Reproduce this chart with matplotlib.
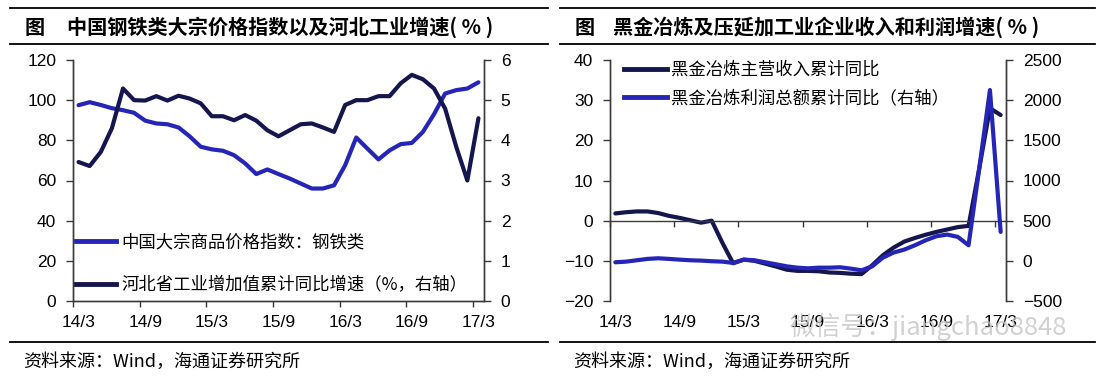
import matplotlib
matplotlib.use("Agg")
import matplotlib.pyplot as plt
from matplotlib.lines import Line2D
import numpy as np
import pandas as pd

plt.rcParams['font.family'] = ['Noto Sans CJK SC', 'DejaVu Sans']

# ---------------- data ----------------
months = [p.strftime('%y/%-m') for p in pd.period_range('2014-03', '2017-03', freq='M')]
tick_labels = ["14/3", "14/9", "15/3", "15/9", "16/3", "16/9", "17/3"]

# left chart
steel_price = [97.5, 99, 97.6, 96, 95, 93.7, 89.8, 88.4, 88, 86.4, 82, 76.8, 75.5, 74.8,
               72.6, 68.5, 63.2, 65.5, 63.2, 61, 58.5, 56, 56, 57.6, 67.6, 81.4, 75.9,
               70.5, 75, 78.1, 78.7, 84.2, 93, 103.3, 105, 105.8, 108.9]
hebei_growth = [3.46, 3.36, 3.71, 4.30, 5.29, 5.0, 4.99, 5.1, 4.99, 5.11, 5.04, 4.92, 4.60,
                4.60, 4.50, 4.63, 4.49, 4.25, 4.10, 4.25, 4.40, 4.42, 4.32, 4.21, 4.88, 5.0,
                5.0, 5.1, 5.1, 5.42, 5.63, 5.52, 5.29, 4.79, 3.84, 3.0, 4.55]

# right chart
revenue_yoy = [1.8, 2.1, 2.3, 2.3, 1.9, 1.2, 0.7, 0.1, -0.5, 0.0, -5.5, -10.6, -9.7, -10.0,
               -10.7, -11.4, -12.2, -12.5, -12.5, -12.6, -12.9, -13.0, -13.2, -13.3, -11.1,
               -8.6, -6.7, -5.2, -4.3, -3.5, -2.8, -2.2, -1.6, -1.3, 13, 28, 26.3]
profit_yoy = [-18, -10, 7, 24, 32, 24, 15, 7, 3, -5, -10, -26, 15, 7, -18, -43, -68, -85,
              -93, -85, -85, -80, -97, -118, -68, 40, 103, 140, 194, 256, 306, 327, 298,
              194, 1150, 2126, 360]

label_steel = "中国大宗商品价格指数：钢铁类"
label_hebei = "河北省工业增加值累计同比增速（%，右轴）"
label_rev = "黑金冶炼主营收入累计同比"
label_profit = "黑金冶炼利润总额累计同比（右轴）"
title_left = "中国钢铁类大宗价格指数以及河北工业增速( % )"
title_right = "黑金冶炼及压延加工业企业收入和利润增速( % )"
source = "资料来源：Wind，海通证券研究所"

BLUE = '#2525B8'
NAVY = '#16164E'
SPINE = '#3a3a3a'
TICKFONT = 'Liberation Sans'

W, H = 1100, 379
fig = plt.figure(figsize=(W / 100, H / 100), dpi=100)

n = len(months)
x = np.arange(n) + 0.5
major = np.arange(0, n, 6)
minor = major + 0.5


def style_common(ax, ax2):
    ax.set_xlim(0, n)
    ax.spines['top'].set_visible(False)
    ax2.spines['top'].set_visible(False)
    for a in (ax, ax2):
        for s in a.spines.values():
            s.set_color(SPINE)
            s.set_linewidth(1.0)
    ax.tick_params(axis='y', direction='out', length=5, width=1, pad=7,
                   labelsize=12.5, labelfontfamily=TICKFONT, color=SPINE)
    ax2.tick_params(axis='y', direction='out', length=5, width=1, pad=7,
                    labelsize=12.5, labelfontfamily=TICKFONT, color=SPINE)
    ax.set_xticks(major)
    ax.set_xticks(minor, minor=True)
    ax.tick_params(axis='x', which='major', direction='out', length=4.5, width=1,
                   color=SPINE)


# ---------------- left chart ----------------
axL = fig.add_axes([73 / W, (H - 301) / H, 411 / W, 241 / H])
axL2 = axL.twinx()
axL.plot(x, steel_price, color=BLUE, lw=3, solid_joinstyle='round', solid_capstyle='round')
axL2.plot(x, hebei_growth, color=NAVY, lw=3, solid_joinstyle='round', solid_capstyle='round')
axL.set_ylim(0, 120)
axL.set_yticks(np.arange(0, 121, 20))
axL2.set_ylim(0, 6)
axL2.set_yticks(np.arange(0, 7, 1))
style_common(axL, axL2)
axL.tick_params(axis='x', which='major', labelbottom=False)
axL.set_xticklabels(tick_labels, minor=True)
axL.tick_params(axis='x', which='minor', length=0, pad=10, labelsize=12.5,
                labelfontfamily=TICKFONT)
axL.set_xlim(0, n)

handlesL = [Line2D([], [], color=BLUE, lw=3.5), Line2D([], [], color=NAVY, lw=3.5)]
fig.legend(handlesL, [label_steel, label_hebei], loc='upper left',
           bbox_to_anchor=(76 / W, 1 - 233 / H), frameon=False, fontsize=12.5,
           handlelength=2.3, handletextpad=0.3, labelspacing=1.45,
           borderpad=0, borderaxespad=0)

# ---------------- right chart ----------------
axR = fig.add_axes([610 / W, (H - 301) / H, 396 / W, 241 / H])
axR2 = axR.twinx()
axR.plot(x, revenue_yoy, color=NAVY, lw=3, solid_joinstyle='round', solid_capstyle='round')
axR2.plot(x, profit_yoy, color=BLUE, lw=3, solid_joinstyle='round', solid_capstyle='round')
axR.set_ylim(-20, 40)
axR.set_yticks(np.arange(-20, 41, 10))
axR2.set_ylim(-500, 2500)
axR2.set_yticks(np.arange(-500, 2501, 500))
style_common(axR, axR2)
axR.spines['bottom'].set_position(('data', 0))
axR2.spines['bottom'].set_visible(False)
axR.tick_params(axis='x', which='both', labelbottom=False)
axR.tick_params(axis='x', which='minor', length=0)
axR.set_xlim(0, n)
sec = axR.secondary_xaxis('bottom')
sec.set_xticks(minor, labels=tick_labels)
sec.tick_params(length=0, pad=10, labelsize=12.5, labelfontfamily=TICKFONT)
sec.spines['bottom'].set_visible(False)

handlesR = [Line2D([], [], color=NAVY, lw=3.5), Line2D([], [], color=BLUE, lw=3.5)]
fig.legend(handlesR, [label_rev, label_profit], loc='upper left',
           bbox_to_anchor=(624 / W, 1 - 61 / H), frameon=False, fontsize=12.5,
           handlelength=2.5, handletextpad=0.2, labelspacing=0.6,
           borderpad=0, borderaxespad=0)

# ---------------- titles, rules, sources ----------------
for x0, x1, tx, title in ((10, 548, 67, title_left), (560, 1095, 613, title_right)):
    for yy in (8, 44, 342):
        fig.add_artist(Line2D([x0 / W, x1 / W], [1 - yy / H] * 2, transform=fig.transFigure,
                              color='black', lw=1.3))
    fig.text((x0 + 15) / W, 1 - 27 / H, "图", fontsize=14.5, weight='bold', va='center')
    fig.text(tx / W, 1 - 27 / H, title, fontsize=14.5, weight='bold', va='center')
    fig.text((x0 + 13) / W, 1 - 362 / H, source, fontsize=13, va='center')

# watermark
fig.text(790 / W, 1 - 327 / H, "微信号：jiangchao8848", fontsize=18.5, color='#c6c6c6',
         va='center', alpha=0.8, zorder=10)

fig.savefig('out.png', dpi=100)
